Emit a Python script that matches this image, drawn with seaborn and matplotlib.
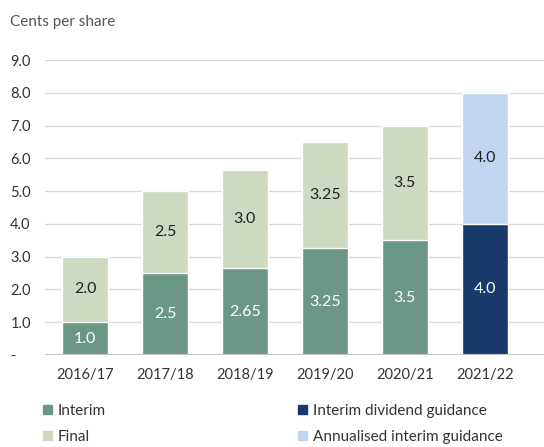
import matplotlib
matplotlib.use("Agg")
import numpy as np
import pandas as pd
import seaborn as sns
import matplotlib.pyplot as plt
from matplotlib.patches import Patch

years = ["2016/17", "2017/18", "2018/19", "2019/20", "2020/21", "2021/22"]
lower_vals = [1.0, 2.5, 2.65, 3.25, 3.5, 4.0]
upper_vals = [2.0, 2.5, 3.0, 3.25, 3.5, 4.0]
lower_labels = ["1.0", "2.5", "2.65", "3.25", "3.5", "4.0"]
upper_labels = ["2.0", "2.5", "3.0", "3.25", "3.5", "4.0"]
y_ticks = [0, 1, 2, 3, 4, 5, 6, 7, 8, 9]
y_ticklabels = ["-", "1.0", "2.0", "3.0", "4.0", "5.0", "6.0", "7.0", "8.0", "9.0"]
legend_left = ["Interim", "Final"]
legend_right = ["Interim dividend guidance", "Annualised interim guidance"]

INTERIM = "#6b9787"
FINAL = "#cdd9c0"
GUIDE = "#173a6b"
ANNUAL = "#c2d5f0"

sns.set_style("white")
plt.rcParams["font.family"] = ["Lato", "DejaVu Sans"]

df = pd.DataFrame({"year": years, "lower": lower_vals, "upper": upper_vals})
df["total"] = df["lower"] + df["upper"]

fig = plt.figure(figsize=(5.44, 4.47), dpi=100)
ax = fig.add_axes([45 / 544, 1 - 355 / 447, 1 - 45 / 544, (355 - 60) / 447])

top_colors = [FINAL] * 5 + [ANNUAL]
low_colors = [INTERIM] * 5 + [GUIDE]

# stacked look: totals first, then the lower segment drawn over them
sns.barplot(data=df, x="year", y="total", hue="year", order=years,
            palette=top_colors, saturation=1, width=0.575, legend=False, ax=ax, zorder=2)
sns.barplot(data=df, x="year", y="lower", hue="year", order=years,
            palette=low_colors, saturation=1, width=0.575, legend=False, ax=ax, zorder=3)

for i, row in df.iterrows():
    ax.text(i, row["lower"] / 2, lower_labels[i], ha="center", va="center",
            color="white", fontsize=11.5, zorder=4)
    ax.text(i, row["lower"] + row["upper"] / 2, upper_labels[i], ha="center", va="center",
            color="#222222", fontsize=11.5, zorder=4)

ax.set_ylim(0, 9)
ax.set_xlim(-0.5, 5.74)
ax.set_yticks(y_ticks)
ax.set_yticklabels(y_ticklabels)
ax.yaxis.grid(True, color="#dcdcdc", linewidth=1, zorder=0)
ax.set_axisbelow(True)
ax.axhline(0, color="#c4c4c4", linewidth=1.5, zorder=5)
for s in ax.spines.values():
    s.set_visible(False)
ax.tick_params(axis="both", length=0, labelsize=10.5, labelcolor="#333333")
ax.tick_params(axis="x", pad=9)
for lab in ax.get_yticklabels():
    lab.set_horizontalalignment("left")
ax.yaxis.set_tick_params(pad=25)
ax.set_xlabel("")
ax.set_ylabel("")

fig.text(10 / 544, 1 - 22 / 447, "Cents per share", fontsize=11, color="#555555", va="center")

left_handles = [Patch(color=INTERIM), Patch(color=FINAL)]
right_handles = [Patch(color=GUIDE), Patch(color=ANNUAL)]
leg_kw = dict(loc="upper left", frameon=False, fontsize=11, handlelength=0.6,
              handleheight=0.6, handletextpad=0.35, labelspacing=0.78, borderpad=0,
              borderaxespad=0, labelcolor="#333333")
leg1 = fig.legend(left_handles, legend_left, bbox_to_anchor=(43 / 544, 1 - 404 / 447), **leg_kw)
leg2 = fig.legend(right_handles, legend_right, bbox_to_anchor=(298 / 544, 1 - 404 / 447), **leg_kw)

fig.savefig("out.png", dpi=100)
